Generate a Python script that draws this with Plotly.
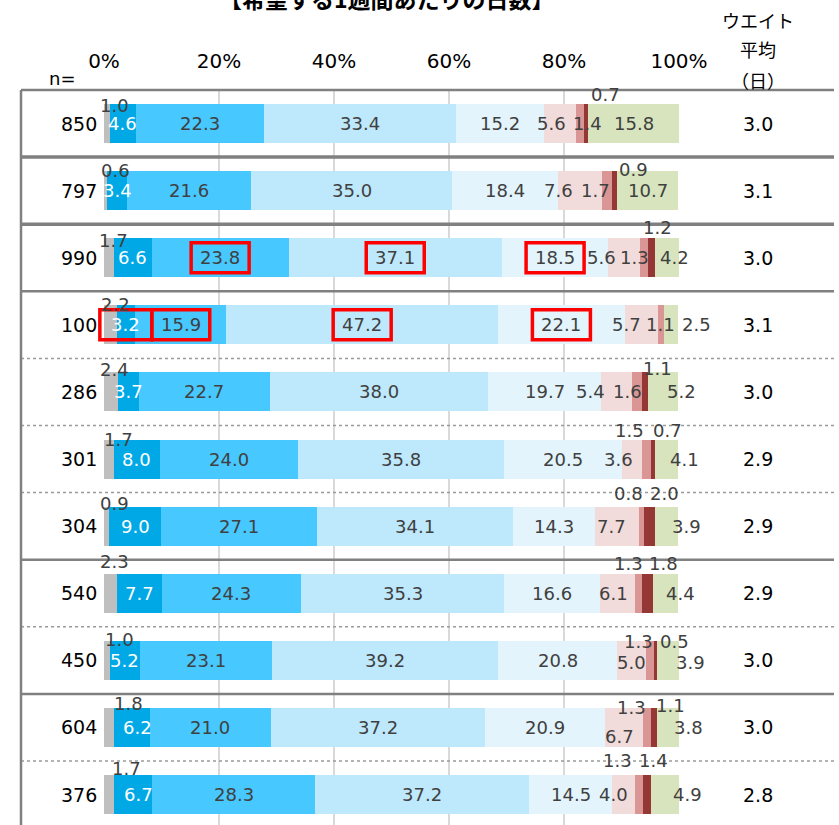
import plotly.graph_objects as go

# rows (n=) top to bottom
n_labels = ["850", "797", "990", "100", "286", "301", "304", "540", "450", "604", "376"]
weighted_avg = ["3.0", "3.1", "3.0", "3.1", "3.0", "2.9", "2.9", "2.9", "3.0", "3.0", "2.8"]

segment_names = ["1日未満", "1日", "2日", "3日", "4日", "5日", "6日", "7日", "わからない"]
under_1 = [1.0, 0.6, 1.7, 2.2, 2.4, 1.7, 0.9, 2.3, 1.0, 1.8, 1.7]
day_1 = [4.6, 3.4, 6.6, 3.2, 3.7, 8.0, 9.0, 7.7, 5.2, 6.2, 6.7]
day_2 = [22.3, 21.6, 23.8, 15.9, 22.7, 24.0, 27.1, 24.3, 23.1, 21.0, 28.3]
day_3 = [33.4, 35.0, 37.1, 47.2, 38.0, 35.8, 34.1, 35.3, 39.2, 37.2, 37.2]
day_4 = [15.2, 18.4, 18.5, 22.1, 19.7, 20.5, 14.3, 16.6, 20.8, 20.9, 14.5]
day_5 = [5.6, 7.6, 5.6, 5.7, 5.4, 3.6, 7.7, 6.1, 5.0, 6.7, 4.0]
day_6 = [1.4, 1.7, 1.3, 1.1, 1.6, 1.5, 0.8, 1.3, 1.3, 1.3, 1.3]
day_7 = [0.7, 0.9, 1.2, 0.0, 1.1, 0.7, 2.0, 1.8, 0.5, 1.1, 1.4]
unknown = [15.8, 10.7, 4.2, 2.5, 5.2, 4.1, 3.9, 4.4, 3.9, 3.8, 4.9]

x_ticks = [0, 20, 40, 60, 80, 100]
x_tick_labels = ["0%", "20%", "40%", "60%", "80%", "100%"]

# (row, segment) pairs framed in red
highlighted = [(2, 2), (2, 3), (2, 4), (3, 1), (3, 2), (3, 3), (3, 4)]

series = [under_1, day_1, day_2, day_3, day_4, day_5, day_6, day_7, unknown]
colors = ["#BFBFBF", "#00A9E6", "#47C8FF", "#BEE8FC", "#E3F4FC",
          "#F2DCDB", "#DA9694", "#953735", "#D7E4BD"]

# hand placed data labels: (row, segment) -> (dx px, dy px down from bar centre)
label_shift = {
    (0, 0): (8, -18), (0, 5): (-8, 0), (0, 6): (7, 0), (0, 7): (19, -29),
    (1, 0): (10, -20), (1, 5): (-22, 0), (1, 6): (-11, 0), (1, 7): (19, -21),
    (2, 0): (5, -17), (2, 5): (-23, 0), (2, 6): (-10, 0), (2, 7): (6, -30), (2, 8): (8, 0),
    (3, 0): (5, -20), (3, 5): (-15, 0), (3, 8): (25, 0),
    (4, 0): (4, -22), (4, 5): (-26, 0), (4, 6): (-10, 0), (4, 7): (13, -23), (4, 8): (19, 0),
    (5, 0): (10, -20), (5, 5): (-13, 0), (5, 6): (-17, -29), (5, 7): (15, -29), (5, 8): (18, 0),
    (6, 0): (8, -23), (6, 5): (-6, 0), (6, 6): (-13, -33), (6, 7): (15, -33), (6, 8): (20, 0),
    (7, 0): (4, -32), (7, 5): (-4, 0), (7, 6): (-10, -30), (7, 7): (16, -30), (7, 8): (15, 0),
    (8, 0): (13, -21), (8, 5): (0, 2), (8, 6): (-11, -19), (8, 7): (19, -19), (8, 8): (23, 2),
    (9, 0): (19, -24), (9, 1): (5, 0), (9, 5): (-5, 9), (9, 6): (-16, -20), (9, 7): (17, -22), (9, 8): (20, 0),
    (10, 0): (18, -26), (10, 1): (5, 0), (10, 5): (-10, 0), (10, 6): (-22, -34), (10, 7): (7, -34), (10, 8): (23, 0),
}

W, H = 839, 825
L, T = 104, 90
PLOT_W, PLOT_H = 575, 735
rows = list(range(len(n_labels)))
Y_RANGE = [-0.5, -0.5 + PLOT_H / 67.1]
NUM_FONT = "DejaVu Sans"
JP_FONT = "Noto Sans CJK JP"


def px_to_paper_x(p):
    return (p - L) / PLOT_W


def px_to_paper_y(p):
    return (H - p) / PLOT_H


def row_to_paper_y(r):
    return 1 - (r - Y_RANGE[0]) / (Y_RANGE[1] - Y_RANGE[0])


fig = go.Figure()
for name, vals, col in zip(segment_names, series, colors):
    fig.add_trace(go.Bar(
        x=vals, y=rows, orientation='h', name=name,
        marker=dict(color=col, line=dict(width=0)),
        width=0.58, hoverinfo='x+name'
    ))

annotations = []
shapes = []

# data labels
for r in rows:
    start = 0.0
    for s, vals in enumerate(series):
        v = vals[r]
        mid = start + v / 2
        start += v
        if v <= 0:
            continue
        dx, dy = label_shift.get((r, s), (0, 0))
        annotations.append(dict(
            x=mid, y=r, xref='x', yref='y', text=f"{v:.1f}", showarrow=False,
            xanchor='center', yanchor='middle', xshift=dx, yshift=-dy,
            font=dict(family=NUM_FONT, size=18, color='white' if s == 1 else '#404040')
        ))
        if (r, s) in highlighted:
            w = 58 if v >= 10 else 52
            shapes.append(dict(
                type='rect', xref='paper', yref='paper',
                xsizemode='pixel', ysizemode='pixel',
                xanchor=mid / 100, yanchor=row_to_paper_y(r),
                x0=-w / 2 + dx, x1=w / 2 + dx, y0=-15, y1=15,
                line=dict(color='#FF0000', width=3.5)
            ))

# n= column and weighted average column
for r in rows:
    annotations.append(dict(
        x=0, y=r, xref='paper', yref='y', text=n_labels[r], showarrow=False,
        xanchor='right', yanchor='middle', xshift=-5,
        font=dict(family=NUM_FONT, size=19, color='black')
    ))
    annotations.append(dict(
        x=px_to_paper_x(758), y=r, xref='paper', yref='y', text=weighted_avg[r],
        showarrow=False, xanchor='center', yanchor='middle',
        font=dict(family=NUM_FONT, size=19, color='black')
    ))

annotations.append(dict(
    x=px_to_paper_x(62), y=px_to_paper_y(79), xref='paper', yref='paper', text="n=",
    showarrow=False, xanchor='center', yanchor='middle',
    font=dict(family=NUM_FONT, size=18, color='black')
))
for txt, py in [("ウエイト", 20), ("平均", 49), ("（日）", 80)]:
    annotations.append(dict(
        x=px_to_paper_x(758), y=px_to_paper_y(py), xref='paper', yref='paper', text=txt,
        showarrow=False, xanchor='center', yanchor='middle',
        font=dict(family=JP_FONT, size=18, color='black')
    ))
# title sits mostly above the top edge, as in the source image
annotations.append(dict(
    x=px_to_paper_x(387), y=px_to_paper_y(-2), xref='paper', yref='paper',
    text="<b>【希望する1週間あたりの日数】</b>", showarrow=False,
    xanchor='center', yanchor='middle',
    font=dict(family=JP_FONT, size=23, color='black')
))

# table rules
rule_styles = [(2.5, 'solid'), (3.5, 'solid'), (3.5, 'solid'), (2.5, 'solid'),
               (1.5, 'dot'), (1.5, 'dot'), (1.5, 'dot'), (2.5, 'solid'),
               (1.5, 'dot'), (2.5, 'solid'), (1.5, 'dot')]
for k, (lw, dash) in enumerate(rule_styles):
    yk = row_to_paper_y(k - 0.5)
    shapes.append(dict(
        type='line', xref='paper', yref='paper',
        x0=px_to_paper_x(21), x1=px_to_paper_x(834), y0=yk, y1=yk,
        line=dict(color='#808080' if dash == 'solid' else '#9A9A9A', width=lw, dash=dash)
    ))
shapes.append(dict(
    type='line', xref='paper', yref='paper',
    x0=px_to_paper_x(21), x1=px_to_paper_x(21), y0=0, y1=1,
    line=dict(color='#808080', width=2.5)
))

fig.update_layout(
    barmode='stack',
    width=W, height=H,
    margin=dict(l=L, r=W - L - PLOT_W, t=T, b=H - T - PLOT_H),
    paper_bgcolor='white', plot_bgcolor='white',
    showlegend=False,
    xaxis=dict(
        range=[0, 100], side='top', tickvals=x_ticks, ticktext=x_tick_labels,
        showgrid=True, gridcolor='#D9D9D9', gridwidth=2, zeroline=False,
        showline=False, ticks='', ticklabelstandoff=17,
        tickfont=dict(family=NUM_FONT, size=20, color='black'), fixedrange=True
    ),
    yaxis=dict(
        range=[Y_RANGE[1], Y_RANGE[0]], showticklabels=False, showgrid=False,
        zeroline=False, showline=False, fixedrange=True
    ),
    annotations=annotations,
    shapes=shapes,
)

# drop the default 8px page margin so the figure starts at the window corner
fig.write_html("out.html", config={'displayModeBar': False},
               post_script="document.body.style.margin='0';")
